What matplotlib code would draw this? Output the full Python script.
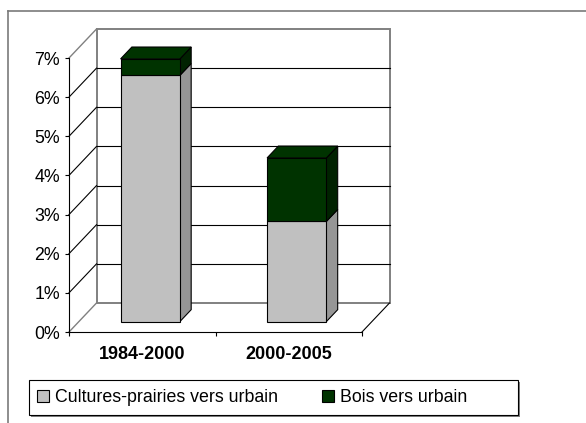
import matplotlib
matplotlib.use("Agg")
import matplotlib.pyplot as plt
from matplotlib.patches import Polygon, Rectangle, Patch
from matplotlib.lines import Line2D
from matplotlib.ticker import FuncFormatter

# Share of land converted to urban use, by period (%)
periods = ["1984-2000", "2000-2005"]
cultures_prairies = [6.29, 2.56]
bois = [0.42, 1.62]
series_names = ["Cultures-prairies vers urbain", "Bois vers urbain"]
y_ticks = [0, 1, 2, 3, 4, 5, 6, 7]

plt.rcParams["font.family"] = ["Liberation Sans", "DejaVu Sans"]

W, H = 586, 423
fig = plt.figure(figsize=(W / 100, H / 100), dpi=100)
fig.patch.set_facecolor("white")

# front plane of the 3D box
ax = fig.add_axes([69 / W, 1 - 332 / H, 293 / W, 274 / H])
n = len(periods)
ymax = y_ticks[-1]
ax.set_xlim(0, n)
ax.set_ylim(0, ymax)
ax.patch.set_visible(False)

# depth of the box, in data units
DX = 27.5 / (293 / n)
DY = 29 / (274 / ymax)

WALL = "#808080"
# back wall
ax.add_patch(Polygon([(DX, DY), (n + DX, DY), (n + DX, ymax + DY), (DX, ymax + DY)],
                     closed=True, facecolor="white", edgecolor=WALL, lw=1.4,
                     clip_on=False, zorder=0.5))
# gridlines on back wall and left wall
for k in y_ticks:
    edge = k in (y_ticks[0], y_ticks[-1])
    col = WALL if edge else "black"
    ax.plot([0, DX], [k, k + DY], color=col, lw=1.0 if edge else 0.8,
            clip_on=False, zorder=0.8)
    if not edge:
        ax.plot([DX, n + DX], [k + DY, k + DY], color="black", lw=0.8,
                clip_on=False, zorder=0.8)
# right floor edge
ax.plot([n, n + DX], [0, DY], color="black", lw=0.8, clip_on=False, zorder=0.8)

# stacked 3D columns
F1, F2 = 0.36, 0.77
BW = 0.405
styles = [("#C0C0C0", "#969696", "#C0C0C0"), ("#003300", "#002200", "#003300")]
series = [cultures_prairies, bois]
for i in range(n):
    xc = i + 0.487
    base = 0.0
    for s, vals in enumerate(series):
        front_c, side_c, top_c = styles[s]
        v = vals[i]
        x0 = xc - BW / 2 + F1 * DX
        x1 = xc + BW / 2 + F1 * DX
        y0 = base + F1 * DY
        y1 = base + v + F1 * DY
        ddx = (F2 - F1) * DX
        ddy = (F2 - F1) * DY
        kw = dict(closed=True, edgecolor="black", lw=0.8, clip_on=False,
                  joinstyle="miter")
        ax.add_patch(Polygon([(x1, y0), (x1 + ddx, y0 + ddy), (x1 + ddx, y1 + ddy), (x1, y1)],
                             facecolor=side_c, zorder=3 + s, **kw))
        if s == len(series) - 1:
            ax.add_patch(Polygon([(x0, y1), (x1, y1), (x1 + ddx, y1 + ddy), (x0 + ddx, y1 + ddy)],
                                 facecolor=top_c, zorder=3 + s, **kw))
        ax.add_patch(Polygon([(x0, y0), (x1, y0), (x1, y1), (x0, y1)],
                             facecolor=front_c, zorder=3 + s, **kw))
        base += v

# axes
for side in ("top", "right"):
    ax.spines[side].set_visible(False)
for side in ("left", "bottom"):
    ax.spines[side].set_color("black")
    ax.spines[side].set_linewidth(0.8)
ax.set_yticks(y_ticks)
ax.yaxis.set_major_formatter(FuncFormatter(lambda v, p: f"{v:.0f}%"))
ax.tick_params(axis="y", direction="out", length=3, width=0.8, pad=3.5,
               labelsize=12.8, colors="black")
ax.set_xticks(range(n + 1))
ax.set_xticklabels([])
ax.tick_params(axis="x", which="major", direction="out", length=3, width=0.8)
ax.set_xticks([i + 0.5 for i in range(n)], minor=True)
ax.set_xticklabels(periods, minor=True, fontsize=13, fontweight="bold")
ax.tick_params(axis="x", which="minor", length=0, pad=10)

# outer chart border
fig.add_artist(Line2D([8 / W, 8 / W], [0, 1 - 11 / H], color="#7a7a7a", lw=1.2))
fig.add_artist(Line2D([8 / W, 1], [1 - 11 / H, 1 - 11 / H], color="#7a7a7a", lw=1.2))

# legend box with shadow
lx0, lx1, ly0, ly1 = 29, 518, 380, 415
fig.add_artist(Rectangle(((lx0 + 2) / W, 1 - (ly1 + 2) / H), (lx1 - lx0) / W, (ly1 - ly0) / H,
                         transform=fig.transFigure, facecolor="#808080", edgecolor="none"))
fig.add_artist(Rectangle((lx0 / W, 1 - ly1 / H), (lx1 - lx0) / W, (ly1 - ly0) / H,
                         transform=fig.transFigure, facecolor="white", edgecolor="black", lw=0.8))

colors = [styles[0][0], styles[1][0]]
anchors = [36.5, 321.5]
for name, col, xa in zip(series_names, colors, anchors):
    fig.legend(handles=[Patch(facecolor=col, edgecolor="black", lw=0.8)], labels=[name],
               loc="center left", bbox_to_anchor=(xa / W, 1 - 397.5 / H),
               frameon=False, borderpad=0, borderaxespad=0,
               handlelength=0.7, handleheight=0.7, handletextpad=0.35,
               fontsize=12.8)

fig.savefig("out.png", dpi=100, facecolor="white")
